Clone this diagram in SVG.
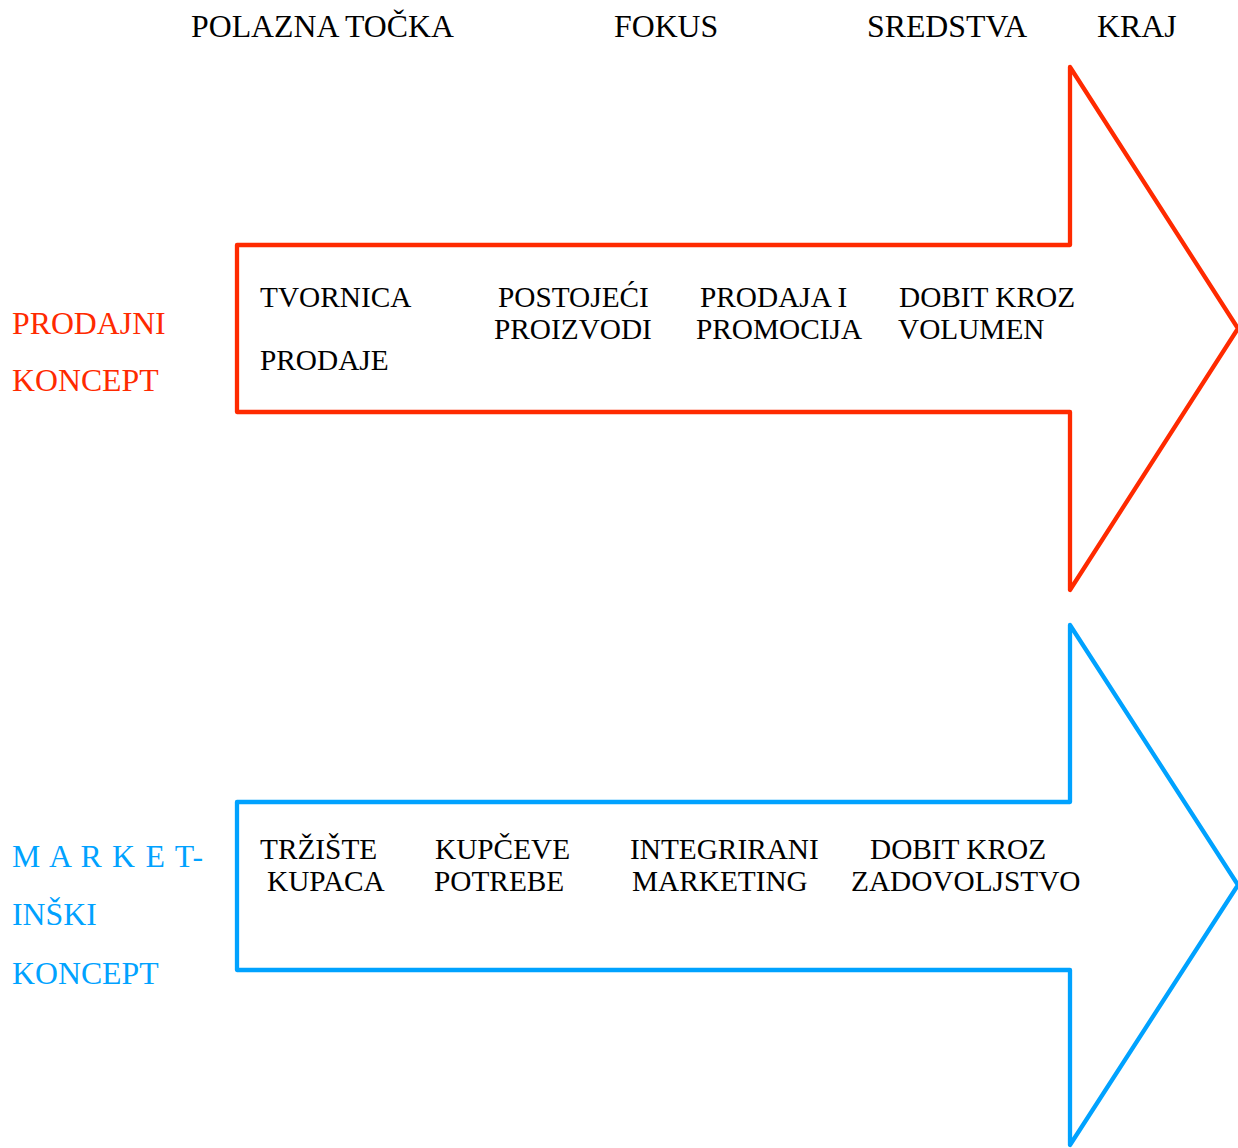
<svg xmlns="http://www.w3.org/2000/svg" width="1238" height="1148" viewBox="0 0 1238 1148">
<style>
text{font-family:"Liberation Serif","Times New Roman",serif;}
.h{font-size:31.8px;fill:#000;}
.b{font-size:29.3px;fill:#000;}
.r{font-size:31.8px;fill:#FF2A00;}
.u{font-size:31.8px;fill:#00A2FF;}
.arr{fill:none;stroke-width:4.3;stroke-linejoin:round;stroke-linecap:round;}
</style>
<rect width="1238" height="1148" fill="#fff"/>
<g id="headers">
<text class="h" x="191" y="37">POLAZNA TOČKA</text>
<text class="h" x="614" y="37">FOKUS</text>
<text class="h" x="867" y="37">SREDSTVA</text>
<text class="h" x="1097" y="37">KRAJ</text>
</g>
<g id="connectors">
<path id="arrow-prodajni" class="arr" stroke="#FF2A00" d="M237,245 H1070 V67 L1238,328.5 L1070,590 V412 H237 Z"/>
<path id="arrow-marketinski" class="arr" stroke="#00A2FF" d="M237,802 H1070 V625 L1238,885 L1070,1145 V970 H237 Z"/>
</g>
<g id="label-prodajni">
<text class="r" x="12" y="334">PRODAJNI</text>
<text class="r" x="12" y="391">KONCEPT</text>
</g>
<g id="label-marketinski">
<text class="u" x="12" y="867" textLength="191" lengthAdjust="spacing">M A R K E T-</text>
<text class="u" x="12" y="925">INŠKI</text>
<text class="u" x="12" y="984">KONCEPT</text>
</g>
<g id="node-tvornica">
<text class="b" x="260" y="307">TVORNICA</text>
<text class="b" x="260" y="370">PRODAJE</text>
</g>
<g id="node-postojeci">
<text class="b" x="498" y="307">POSTOJEĆI</text>
<text class="b" x="494" y="339">PROIZVODI</text>
</g>
<g id="node-prodaja">
<text class="b" x="700" y="307">PRODAJA I</text>
<text class="b" x="696" y="339">PROMOCIJA</text>
</g>
<g id="node-dobit-volumen">
<text class="b" x="899" y="307">DOBIT KROZ</text>
<text class="b" x="898" y="339">VOLUMEN</text>
</g>
<g id="node-trziste">
<text class="b" x="260" y="859">TRŽIŠTE</text>
<text class="b" x="267" y="891">KUPACA</text>
</g>
<g id="node-kupceve">
<text class="b" x="435" y="859">KUPČEVE</text>
<text class="b" x="434" y="891">POTREBE</text>
</g>
<g id="node-integrirani">
<text class="b" x="630" y="859">INTEGRIRANI</text>
<text class="b" x="632" y="891">MARKETING</text>
</g>
<g id="node-dobit-zadovoljstvo">
<text class="b" x="870" y="859">DOBIT KROZ</text>
<text class="b" x="851" y="891">ZADOVOLJSTVO</text>
</g>
</svg>
